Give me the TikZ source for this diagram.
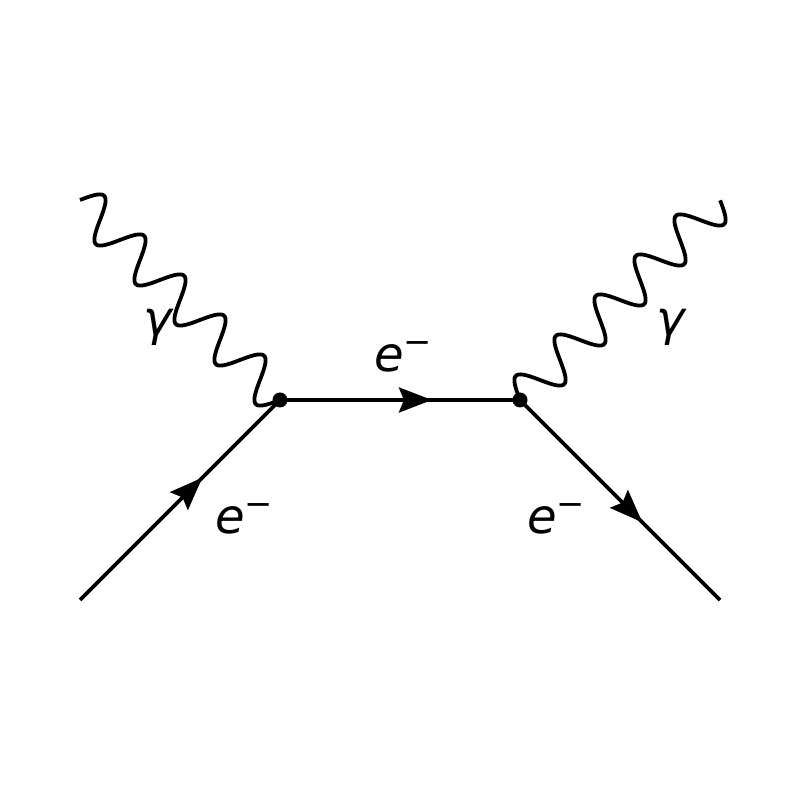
\documentclass[tikz,border=0pt]{standalone}
\usepackage{fontspec}
\setmainfont{DejaVu Sans}
\usetikzlibrary{arrows.meta,decorations.markings}

\tikzset{
  fermion/.style={line width=0.038cm,
    decoration={markings,mark=at position #1 with {\arrow{Stealth[length=0.33cm,width=0.25cm,inset=0.05cm]}}},
    postaction={decorate}},
  photon/.style={line width=0.038cm,smooth,samples=200},
  vertex/.style={circle,fill,inner sep=0pt,minimum size=0.15cm},
  lbl/.style={inner sep=0pt,font=\fontsize{13.7pt}{16pt}\selectfont}
}

\begin{document}
\begin{tikzpicture}
  \useasboundingbox (0,0) rectangle (8,8);
  \coordinate (p1) at (2.8,4); \coordinate (p2) at (5.2,4);
  \coordinate (ein) at (0.8,2); \coordinate (eout) at (7.2,2);
  \coordinate (gin) at (0.8,6); \coordinate (gout) at (7.2,6);
  \draw[fermion=0.613] (ein) -- (p1);
  \draw[fermion=0.633] (p1) -- (p2);
  \draw[fermion=0.613] (p2) -- (eout);
  % photons: five periods of a sine along each leg
  \begin{scope}[shift={(gin)},rotate=-45]
    \draw[photon,domain=0:2.8284,variable=\x] plot ({\x},{0.2*sin(636.4*\x)});
  \end{scope}
  \begin{scope}[shift={(p2)},rotate=45]
    \draw[photon,domain=0:2.8284,variable=\x] plot ({\x},{0.2*sin(636.4*\x)});
  \end{scope}
  \node[vertex] (v1) at (p1) {}; \node[vertex] (v2) at (p2) {};
  \node[lbl] (lgin) at (1.58,4.73) {\itshape γ};
  \node[lbl] (lgout) at (6.71,4.73) {\itshape γ};
  \node[lbl] (lemid) at (4.04,4.43) {{\itshape e}\textsuperscript{−}};
  \node[lbl] (lein) at (2.45,2.81) {{\itshape e}\textsuperscript{−}};
  \node[lbl] (leout) at (5.57,2.81) {{\itshape e}\textsuperscript{−}};
\end{tikzpicture}
\end{document}
